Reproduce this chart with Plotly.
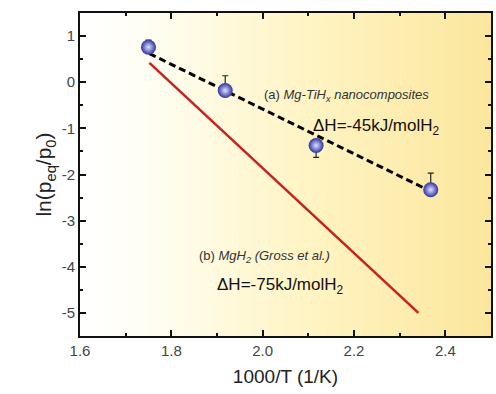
import plotly.graph_objects as go

# Data
x_pts = [1.75, 1.918, 2.117, 2.368]
y_pts = [0.76, -0.18, -1.37, -2.33]
err_plus = [0.15, 0.32, 0.0, 0.36]
err_minus = [0.0, 0.0, 0.26, 0.0]

fit_a_x = [1.752, 2.365]
fit_a_y = [0.62, -2.35]

line_b_x = [1.752, 2.341]
line_b_y = [0.42, -5.0]

x_range = [1.6, 2.5]
y_range = [-5.5, 1.5]
x_ticks = [1.6, 1.8, 2.0, 2.2, 2.4]
y_ticks = [-5, -4, -3, -2, -1, 0, 1]

fig = go.Figure()

# background gradient (white -> yellow)
ncol = 60
fig.add_trace(go.Heatmap(
    z=[list(range(ncol)), list(range(ncol))],
    x0=x_range[0], dx=(x_range[1] - x_range[0]) / (ncol - 1),
    y=[y_range[0], y_range[1]],
    colorscale=[[0, '#ffffff'], [0.15, '#fffef4'], [0.55, '#fff4c4'], [1, '#fbe69c']],
    showscale=False, hoverinfo='skip', zsmooth='best'))

fig.add_trace(go.Scatter(x=line_b_x, y=line_b_y, mode='lines',
                         line=dict(color='#c8201e', width=2.5), showlegend=False))
fig.add_trace(go.Scatter(x=fit_a_x, y=fit_a_y, mode='lines',
                         line=dict(color='black', width=3, dash='7px,4px'), showlegend=False))
fig.add_trace(go.Scatter(
    x=x_pts, y=y_pts, mode='markers',
    marker=dict(size=15, color='#2f33a0', line=dict(width=0),
                gradient=dict(type='radial', color='#dfe2ff')),
    error_y=dict(type='data', array=err_plus, arrayminus=err_minus,
                 color='#222', thickness=1.2, width=3),
    showlegend=False))

font_main = 'Liberation Sans, Arial, sans-serif'
fig.add_annotation(x=1.998, y=-0.28, xref='x', yref='y', xanchor='left', yanchor='middle',
                   text='(a) <i>Mg-TiH<sub>x</sub> nanocomposites</i>', showarrow=False,
                   font=dict(family=font_main, size=13, color='#333'))
fig.add_annotation(x=2.105, y=-0.97, xref='x', yref='y', xanchor='left', yanchor='middle',
                   text='ΔH=-45kJ/molH<sub>2</sub>', showarrow=False,
                   font=dict(family=font_main, size=17, color='#111'))
fig.add_annotation(x=1.857, y=-3.78, xref='x', yref='y', xanchor='left', yanchor='middle',
                   text='(b) <i>MgH<sub>2</sub> (Gross et al.)</i>', showarrow=False,
                   font=dict(family=font_main, size=13, color='#333'))
fig.add_annotation(x=1.895, y=-4.42, xref='x', yref='y', xanchor='left', yanchor='middle',
                   text='ΔH=-75kJ/molH<sub>2</sub>', showarrow=False,
                   font=dict(family=font_main, size=17, color='#111'))

axis_common = dict(showline=True, linecolor='#111', linewidth=2, mirror='allticks',
                   ticks='inside', ticklen=6, tickwidth=1.5, tickcolor='#111',
                   showgrid=False, zeroline=False,
                   tickfont=dict(family=font_main, size=15, color='#444'))

fig.update_xaxes(range=x_range, tickvals=x_ticks, ticktext=[f'{v:.1f}' for v in x_ticks],
                 minor=dict(dtick=0.1, ticks='inside', ticklen=3, tickwidth=1.5, tickcolor='#111'),
                 title=dict(text='1000/T (1/K)', font=dict(family=font_main, size=19, color='#222'),
                            standoff=12),
                 **axis_common)
fig.update_yaxes(range=y_range, tickvals=y_ticks, ticktext=[str(v) for v in y_ticks],
                 minor=dict(dtick=0.5, ticks='inside', ticklen=3, tickwidth=1.5, tickcolor='#111'),
                 title=dict(text='ln(p<sub>eq</sub>/p<sub>0</sub>)',
                            font=dict(family=font_main, size=21, color='#222'), standoff=4),
                 **axis_common)

fig.update_layout(width=496, height=394, margin=dict(l=80, r=3, t=13, b=58),
                  paper_bgcolor='white', plot_bgcolor='white')

fig.write_html('out.html')
